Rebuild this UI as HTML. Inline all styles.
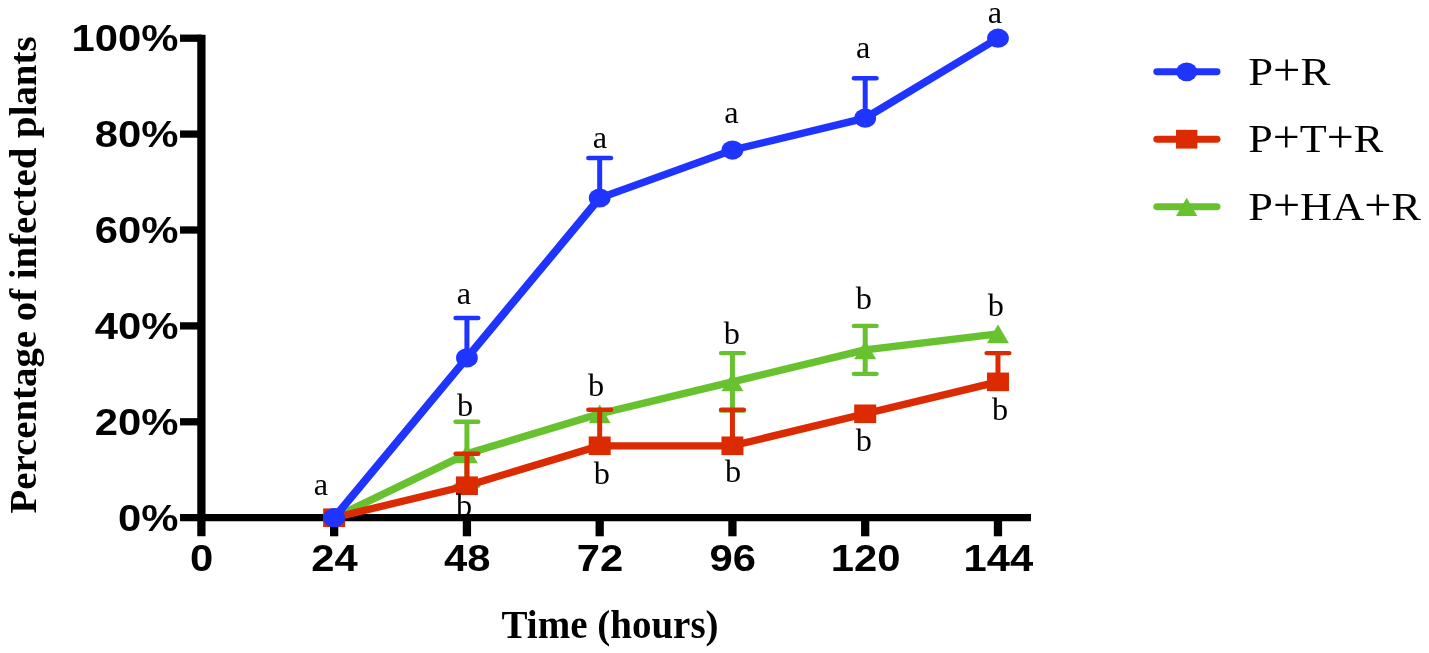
<!DOCTYPE html>
<html><head><meta charset="utf-8"><title>chart</title>
<style>html,body{margin:0;padding:0;background:#fff;}svg{display:block}</style></head>
<body>
<svg width="1429" height="653" viewBox="0 0 1429 653">
<rect width="1429" height="653" fill="#fff"/>
<g transform="scale(1.134 1)">
<path d="M177.60 34.70V536.3" stroke="#000" stroke-width="7.3" fill="none"/>
<path d="M158.73 517.70H909.17" stroke="#000" stroke-width="7.3" fill="none"/>
<path d="M158.73 421.80H177.60" stroke="#000" stroke-width="7.3" fill="none"/>
<path d="M158.73 325.90H177.60" stroke="#000" stroke-width="7.3" fill="none"/>
<path d="M158.73 230.00H177.60" stroke="#000" stroke-width="7.3" fill="none"/>
<path d="M158.73 134.10H177.60" stroke="#000" stroke-width="7.3" fill="none"/>
<path d="M158.73 38.20H177.60" stroke="#000" stroke-width="7.3" fill="none"/>
<path d="M294.67 517.70V536.3" stroke="#000" stroke-width="7.3" fill="none"/>
<path d="M411.75 517.70V536.3" stroke="#000" stroke-width="7.3" fill="none"/>
<path d="M528.82 517.70V536.3" stroke="#000" stroke-width="7.3" fill="none"/>
<path d="M645.89 517.70V536.3" stroke="#000" stroke-width="7.3" fill="none"/>
<path d="M762.96 517.70V536.3" stroke="#000" stroke-width="7.3" fill="none"/>
<path d="M880.04 517.70V536.3" stroke="#000" stroke-width="7.3" fill="none"/>
<polyline points="294.67,517.70 411.75,453.78 528.82,413.79 645.89,381.86 762.96,349.88 880.04,333.91" fill="none" stroke="#68c22f" stroke-width="7.3" stroke-linejoin="round" stroke-linecap="round"/>
<path d="M411.75 453.78V421.80M401.95 421.80H421.55" stroke="#68c22f" stroke-width="4.4" fill="none" stroke-linecap="round"/>
<path d="M411.75 453.78V485.77M401.95 485.77H421.55" stroke="#68c22f" stroke-width="4.4" fill="none" stroke-linecap="round"/>
<path d="M645.89 381.86V353.09M636.09 353.09H655.69" stroke="#68c22f" stroke-width="4.4" fill="none" stroke-linecap="round"/>
<path d="M645.89 381.86V410.63M636.09 410.63H655.69" stroke="#68c22f" stroke-width="4.4" fill="none" stroke-linecap="round"/>
<path d="M762.96 349.88V325.90M753.16 325.90H772.76" stroke="#68c22f" stroke-width="4.4" fill="none" stroke-linecap="round"/>
<path d="M762.96 349.88V373.85M753.16 373.85H772.76" stroke="#68c22f" stroke-width="4.4" fill="none" stroke-linecap="round"/>
<path d="M294.67 508.40L304.37 527.05H284.97Z" fill="#68c22f"/>
<path d="M411.75 444.48L421.45 463.13H402.05Z" fill="#68c22f"/>
<path d="M528.82 404.49L538.52 423.14H519.12Z" fill="#68c22f"/>
<path d="M645.89 372.56L655.59 391.21H636.19Z" fill="#68c22f"/>
<path d="M762.96 340.57L772.66 359.23H753.26Z" fill="#68c22f"/>
<path d="M880.04 324.61L889.74 343.26H870.34Z" fill="#68c22f"/>
<polyline points="294.67,517.70 411.75,485.72 528.82,445.78 645.89,445.78 762.96,413.79 880.04,381.86" fill="none" stroke="#dc2a02" stroke-width="7.3" stroke-linejoin="round" stroke-linecap="round"/>
<path d="M411.75 485.72V453.73M401.95 453.73H421.55" stroke="#dc2a02" stroke-width="4.4" fill="none" stroke-linecap="round"/>
<path d="M528.82 445.78V409.81M519.02 409.81H538.62" stroke="#dc2a02" stroke-width="4.4" fill="none" stroke-linecap="round"/>
<path d="M645.89 445.78V409.81M636.09 409.81H655.69" stroke="#dc2a02" stroke-width="4.4" fill="none" stroke-linecap="round"/>
<path d="M880.04 381.86V353.09M870.24 353.09H889.84" stroke="#dc2a02" stroke-width="4.4" fill="none" stroke-linecap="round"/>
<rect x="284.97" y="508.40" width="19.4" height="18.6" fill="#dc2a02"/>
<rect x="402.05" y="476.42" width="19.4" height="18.6" fill="#dc2a02"/>
<rect x="519.12" y="436.48" width="19.4" height="18.6" fill="#dc2a02"/>
<rect x="636.19" y="436.48" width="19.4" height="18.6" fill="#dc2a02"/>
<rect x="753.26" y="404.49" width="19.4" height="18.6" fill="#dc2a02"/>
<rect x="870.34" y="372.56" width="19.4" height="18.6" fill="#dc2a02"/>
<polyline points="294.67,517.70 411.75,357.88 528.82,198.02 645.89,150.07 762.96,118.13 880.04,38.20" fill="none" stroke="#1f35ff" stroke-width="7.3" stroke-linejoin="round" stroke-linecap="round"/>
<path d="M411.75 357.88V317.94M401.95 317.94H421.55" stroke="#1f35ff" stroke-width="4.4" fill="none" stroke-linecap="round"/>
<path d="M528.82 198.02V158.07M519.02 158.07H538.62" stroke="#1f35ff" stroke-width="4.4" fill="none" stroke-linecap="round"/>
<path d="M762.96 118.13V78.19M753.16 78.19H772.76" stroke="#1f35ff" stroke-width="4.4" fill="none" stroke-linecap="round"/>
<circle cx="294.67" cy="517.70" r="9.6" fill="#1f35ff"/>
<circle cx="411.75" cy="357.88" r="9.6" fill="#1f35ff"/>
<circle cx="528.82" cy="198.02" r="9.6" fill="#1f35ff"/>
<circle cx="645.89" cy="150.07" r="9.6" fill="#1f35ff"/>
<circle cx="762.96" cy="118.13" r="9.6" fill="#1f35ff"/>
<circle cx="880.04" cy="38.20" r="9.6" fill="#1f35ff"/>
<path d="M1020.46 71.8H1072.84" stroke="#1f35ff" stroke-width="6.9" stroke-linecap="round"/>
<circle cx="1046.47" cy="71.8" r="9.4" fill="#1f35ff"/>
<path d="M1020.46 139.2H1072.84" stroke="#dc2a02" stroke-width="6.9" stroke-linecap="round"/>
<rect x="1037.07" y="129.80" width="18.8" height="18.8" fill="#dc2a02"/>
<path d="M1020.46 206.7H1072.84" stroke="#68c22f" stroke-width="6.9" stroke-linecap="round"/>
<path d="M1046.47 197.70L1055.87 216.00H1037.07Z" fill="#68c22f"/>
</g>
<g fill="#000" opacity="0.999">
<text transform="translate(178.4 530.9000000000001) scale(1.13 1)" text-anchor="end" font-family="'Liberation Sans', sans-serif" font-weight="bold" font-size="37">0%</text>
<text transform="translate(178.4 435.0) scale(1.13 1)" text-anchor="end" font-family="'Liberation Sans', sans-serif" font-weight="bold" font-size="37">20%</text>
<text transform="translate(178.4 339.09999999999997) scale(1.13 1)" text-anchor="end" font-family="'Liberation Sans', sans-serif" font-weight="bold" font-size="37">40%</text>
<text transform="translate(178.4 243.2) scale(1.13 1)" text-anchor="end" font-family="'Liberation Sans', sans-serif" font-weight="bold" font-size="37">60%</text>
<text transform="translate(178.4 147.29999999999995) scale(1.13 1)" text-anchor="end" font-family="'Liberation Sans', sans-serif" font-weight="bold" font-size="37">80%</text>
<text transform="translate(178.4 51.39999999999999) scale(1.13 1)" text-anchor="end" font-family="'Liberation Sans', sans-serif" font-weight="bold" font-size="37">100%</text>
<text transform="translate(201.70000000000002 571.3) scale(1.13 1)" text-anchor="middle" font-family="'Liberation Sans', sans-serif" font-weight="bold" font-size="37">0</text>
<text transform="translate(334.46 571.3) scale(1.13 1)" text-anchor="middle" font-family="'Liberation Sans', sans-serif" font-weight="bold" font-size="37">24</text>
<text transform="translate(467.21999999999997 571.3) scale(1.13 1)" text-anchor="middle" font-family="'Liberation Sans', sans-serif" font-weight="bold" font-size="37">48</text>
<text transform="translate(599.9799999999998 571.3) scale(1.13 1)" text-anchor="middle" font-family="'Liberation Sans', sans-serif" font-weight="bold" font-size="37">72</text>
<text transform="translate(732.7399999999999 571.3) scale(1.13 1)" text-anchor="middle" font-family="'Liberation Sans', sans-serif" font-weight="bold" font-size="37">96</text>
<text transform="translate(865.4999999999999 571.3) scale(1.13 1)" text-anchor="middle" font-family="'Liberation Sans', sans-serif" font-weight="bold" font-size="37">120</text>
<text transform="translate(998.2599999999999 571.3) scale(1.13 1)" text-anchor="middle" font-family="'Liberation Sans', sans-serif" font-weight="bold" font-size="37">144</text>
<text x="321" y="495" text-anchor="middle" font-family="'Liberation Serif', serif" font-size="32.3" >a</text>
<text x="464" y="304.2" text-anchor="middle" font-family="'Liberation Serif', serif" font-size="32.3" >a</text>
<text x="600" y="148.2" text-anchor="middle" font-family="'Liberation Serif', serif" font-size="32.3" >a</text>
<text x="731.4" y="122.6" text-anchor="middle" font-family="'Liberation Serif', serif" font-size="32.3" >a</text>
<text x="863.2" y="58.1" text-anchor="middle" font-family="'Liberation Serif', serif" font-size="32.3" >a</text>
<text x="995" y="23.3" text-anchor="middle" font-family="'Liberation Serif', serif" font-size="32.3" >a</text>
<text x="465.1" y="415.5" text-anchor="middle" font-family="'Liberation Serif', serif" font-size="32.3" >b</text>
<text x="596" y="396.2" text-anchor="middle" font-family="'Liberation Serif', serif" font-size="32.3" >b</text>
<text x="731.9" y="344" text-anchor="middle" font-family="'Liberation Serif', serif" font-size="32.3" >b</text>
<text x="863.75" y="308.7" text-anchor="middle" font-family="'Liberation Serif', serif" font-size="32.3" >b</text>
<text x="995.75" y="315.6" text-anchor="middle" font-family="'Liberation Serif', serif" font-size="32.3" >b</text>
<text x="464.1" y="515.5" text-anchor="middle" font-family="'Liberation Serif', serif" font-size="32.3" >b</text>
<text x="601.85" y="484" text-anchor="middle" font-family="'Liberation Serif', serif" font-size="32.3" >b</text>
<text x="733.2" y="482.2" text-anchor="middle" font-family="'Liberation Serif', serif" font-size="32.3" >b</text>
<text x="863.8" y="451" text-anchor="middle" font-family="'Liberation Serif', serif" font-size="32.3" >b</text>
<text x="1000" y="419.8" text-anchor="middle" font-family="'Liberation Serif', serif" font-size="32.3" >b</text>
<text x="1248.2" y="85.2" font-family="'Liberation Serif', serif" font-size="41" textLength="82.2" lengthAdjust="spacingAndGlyphs">P<tspan font-size="44.5">+</tspan>R</text>
<text x="1248.2" y="152.3" font-family="'Liberation Serif', serif" font-size="41" textLength="135" lengthAdjust="spacingAndGlyphs">P<tspan font-size="44.5">+</tspan>T<tspan font-size="44.5">+</tspan>R</text>
<text x="1248.2" y="219.8" font-family="'Liberation Serif', serif" font-size="41" textLength="172.8" lengthAdjust="spacingAndGlyphs">P<tspan font-size="44.5">+</tspan>HA<tspan font-size="44.5">+</tspan>R</text>
<text x="610.1" y="637.7" text-anchor="middle" font-family="'Liberation Serif', serif" font-weight="bold" font-size="39">Time (hours)</text>
<text transform="translate(36 275) rotate(-90)" text-anchor="middle" font-family="'Liberation Serif', serif" font-weight="bold" font-size="38.85">Percentage of infected plants</text>
</g>
</svg>
</body></html>
